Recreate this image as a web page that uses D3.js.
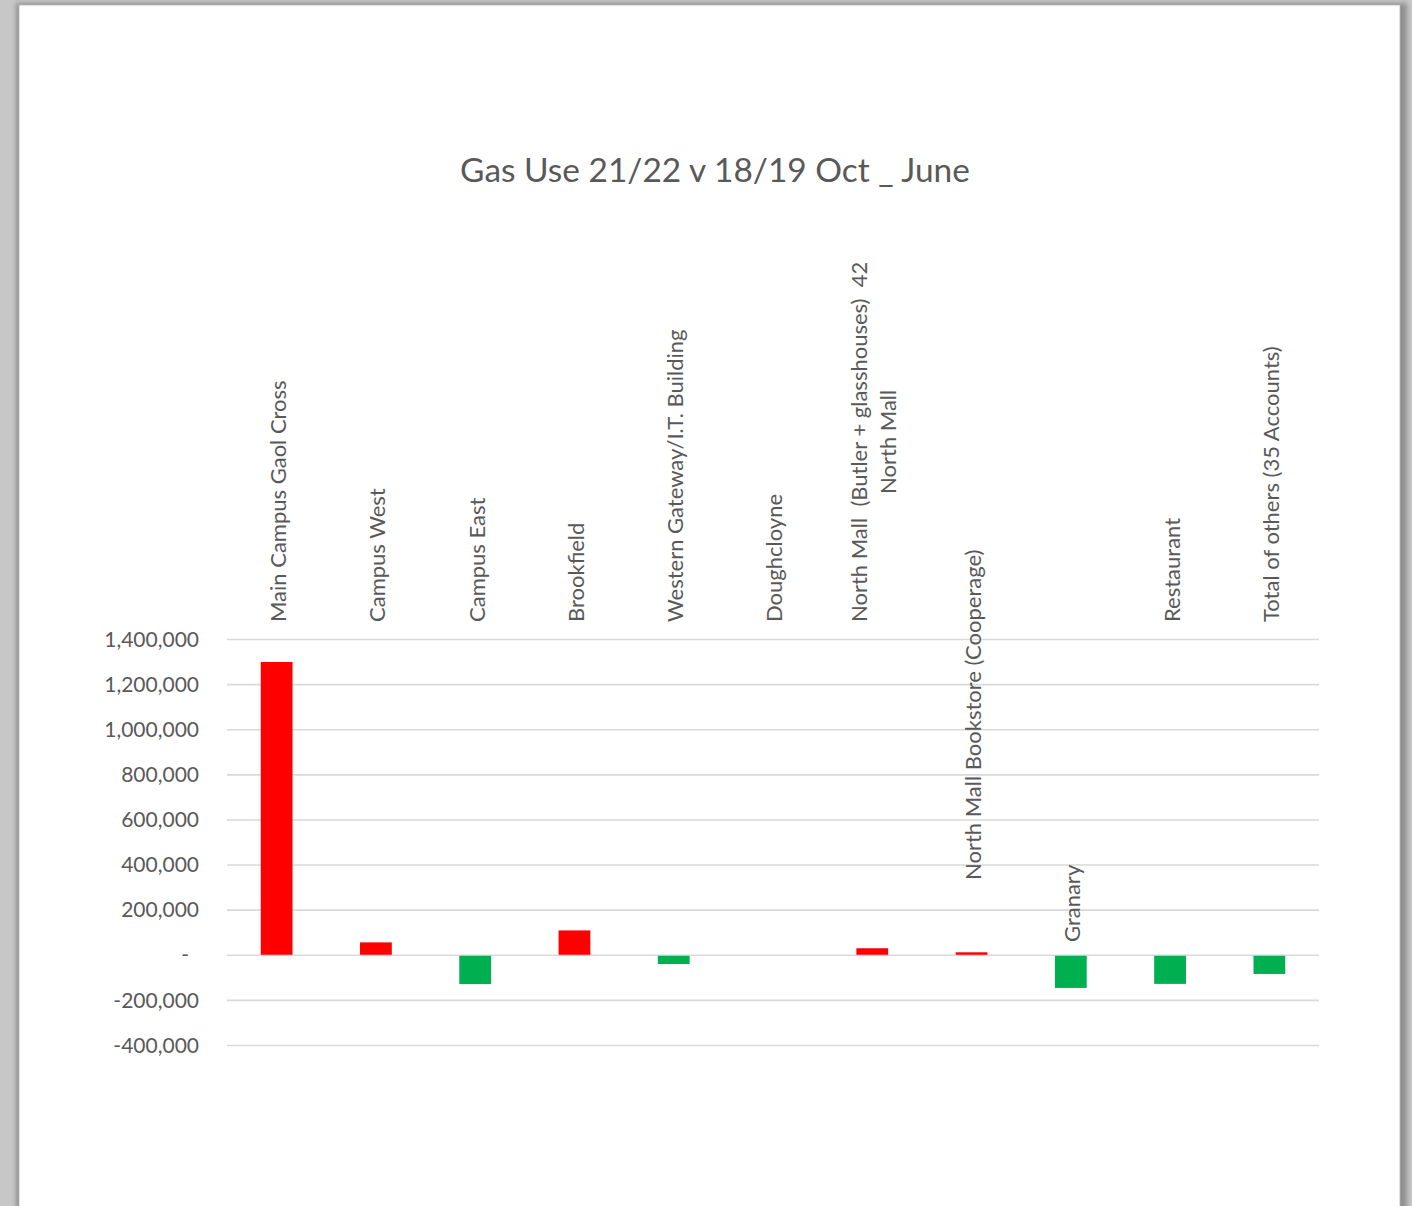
<!DOCTYPE html>
<meta charset="utf-8">
<script src="https://d3js.org/d3.v7.min.js"></script>
<style>
  html, body { margin: 0; padding: 0; background: #c6c7c6; overflow: hidden; }
  text { font-family: Lato, "Open Sans", sans-serif; fill: #595959; }
</style>
<div id="chart"></div>
<script>

// data
var categories = [
  ["Main Campus Gaol Cross"],
  ["Campus West"],
  ["Campus East"],
  ["Brookfield"],
  ["Western Gateway/I.T. Building"],
  ["Doughcloyne"],
  ["North Mall  (Butler + glasshouses)  42", "North Mall"],
  ["North Mall Bookstore (Cooperage)"],
  ["Granary"],
  ["Restaurant"],
  ["Total of others (35 Accounts)"]
];
var difference = [1298000, 55000, -130000, 108000, -41000, 0, 29000, 11000, -147000, -129000, -85000];
var yTicks = [-400000, -200000, 0, 200000, 400000, 600000, 800000, 1000000, 1200000, 1400000];
var title = "Gas Use 21/22 v 18/19 Oct _ June";

// labels that Excel pushed further down (pixels)
var labelDrop = [0, 0, 0, 0, 0, 0, 0, 258, 320, 0, 0];

var W = 1412, H = 1206;
var plot = {left: 227, right: 1319, top: 639, bottom: 1045};

var svg = d3.select("#chart").append("svg")
    .attr("width", W)
    .attr("height", H);

// page / sheet look
var defs = svg.append("defs");
var f = defs.append("filter").attr("id", "shadow")
    .attr("x", "-5%").attr("y", "-5%").attr("width", "110%").attr("height", "110%");
f.append("feGaussianBlur").attr("in", "SourceGraphic").attr("stdDeviation", 2.5);

svg.append("rect")
    .attr("x", 16).attr("y", 3).attr("width", 1391).attr("height", 1215)
    .attr("fill", "#8f8f8f")
    .attr("filter", "url(#shadow)");
svg.append("rect")
    .attr("x", 19).attr("y", 5).attr("width", 1381).attr("height", 1210)
    .attr("fill", "#ffffff")
    .attr("stroke", "#b4b4b4")
    .attr("stroke-width", 0.8);

// scales
var x = d3.scaleBand()
    .domain(d3.range(categories.length))
    .range([plot.left, plot.right])
    .paddingInner(0.68)
    .paddingOuter(0.34);

var y = d3.scaleLinear()
    .domain([-400000, 1400000])
    .range([plot.bottom, plot.top]);

function fmt(v) {
  if (v === 0) return "-";
  return (v < 0 ? "-" : "") + d3.format(",")(Math.abs(v));
}

// gridlines + y labels
var yAxis = d3.axisLeft(y)
    .tickValues(yTicks)
    .tickSize(-(plot.right - plot.left))
    .tickPadding(28)
    .tickFormat(fmt);

var gy = svg.append("g")
    .attr("transform", "translate(" + plot.left + ",0)")
    .call(yAxis);
gy.select(".domain").remove();
gy.selectAll(".tick line")
    .attr("stroke", "#d9d9d9")
    .attr("stroke-width", 1.6);
gy.selectAll(".tick text")
    .attr("fill", "#595959")
    .style("font-size", "21px")
    .attr("dy", "0.34em")
    .attr("dx", function(d) { return d === 0 ? -10 : 0; });

// bars
svg.append("g")
  .selectAll("rect")
  .data(difference)
  .enter()
  .append("rect")
    .attr("x", function(d, i) { return x(i); })
    .attr("width", x.bandwidth())
    .attr("y", function(d) { return d >= 0 ? y(d) : y(0) + 1; })
    .attr("height", function(d) { return d >= 0 ? y(0) - y(d) : y(d) - y(0) - 1; })
    .attr("fill", function(d) { return d >= 0 ? "#ff0000" : "#00b050"; });

// category labels, rotated, at the top of the plot
var labelBase = plot.top - 17;
var lineGap = 29;

categories.forEach(function(lines, i) {
  var cx = x(i) + x.bandwidth() / 2 + 1.5;
  var g = svg.append("g")
      .attr("transform", "translate(" + cx + "," + (labelBase + labelDrop[i]) + ") rotate(-90)");
  var texts = lines.map(function(t, k) {
    return g.append("text")
        .attr("y", (k - (lines.length - 1) / 2) * lineGap)
        .attr("dy", "0.36em")
        .style("font-size", "22px")
        .style("white-space", "pre")
        .attr("xml:space", "preserve")
        .text(t);
  });
  var L = d3.max(texts, function(t) { return t.node().getComputedTextLength(); });
  texts.forEach(function(t) {
    t.attr("x", L / 2).attr("text-anchor", "middle");
  });
});

// title, sized to the width it has in the original
var tt = svg.append("text")
    .attr("x", 715)
    .attr("y", 182)
    .attr("text-anchor", "middle")
    .style("font-size", "30px")
    .text(title);
var tw = tt.node().getComputedTextLength();
tt.style("font-size", (30 * 510 / tw) + "px");

</script>
